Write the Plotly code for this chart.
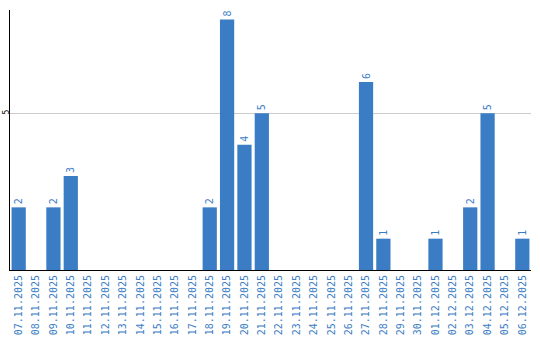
import plotly.graph_objects as go

dates = ["07.11.2025","08.11.2025","09.11.2025","10.11.2025","11.11.2025","12.11.2025",
         "13.11.2025","14.11.2025","15.11.2025","16.11.2025","17.11.2025","18.11.2025",
         "19.11.2025","20.11.2025","21.11.2025","22.11.2025","23.11.2025","24.11.2025",
         "25.11.2025","26.11.2025","27.11.2025","28.11.2025","29.11.2025","30.11.2025",
         "01.12.2025","02.12.2025","03.12.2025","04.12.2025","05.12.2025","06.12.2025"]
values = [2,0,2,3,0,0,0,0,0,0,0,2,8,4,5,0,0,0,0,0,6,1,0,0,1,0,2,5,0,1]
labels = [str(v) if v > 0 else "" for v in values]

blue = "#3b7dc4"
fig = go.Figure(go.Bar(
    x=dates, y=values, text=labels, textposition="outside", textangle=-90,
    cliponaxis=False,
    textfont=dict(color=blue, size=10, family="DejaVu Sans Mono"),
    marker=dict(color=blue, line=dict(width=0)),
))
fig.update_layout(
    width=540, height=340, margin=dict(l=10, r=9, t=10, b=70, autoexpand=False),
    paper_bgcolor="white", plot_bgcolor="white", bargap=0.18,
    showlegend=False,
    xaxis=dict(type="category", tickangle=-90, showline=True, linecolor="black", linewidth=1,
               tickfont=dict(color=blue, size=10, family="DejaVu Sans Mono"), ticks="",
               showgrid=False, automargin=False),
    yaxis=dict(range=[0, 8.3], tickvals=[5], ticktext=["5"], tickangle=-90,
               showline=True, linecolor="black", linewidth=1,
               gridcolor="#cccccc", gridwidth=1, zeroline=False, automargin=False,
               ticklabelstandoff=-3,
               tickfont=dict(color="black", size=8, family="DejaVu Sans Mono"), ticks=""),
)
fig.write_html("out.html")
